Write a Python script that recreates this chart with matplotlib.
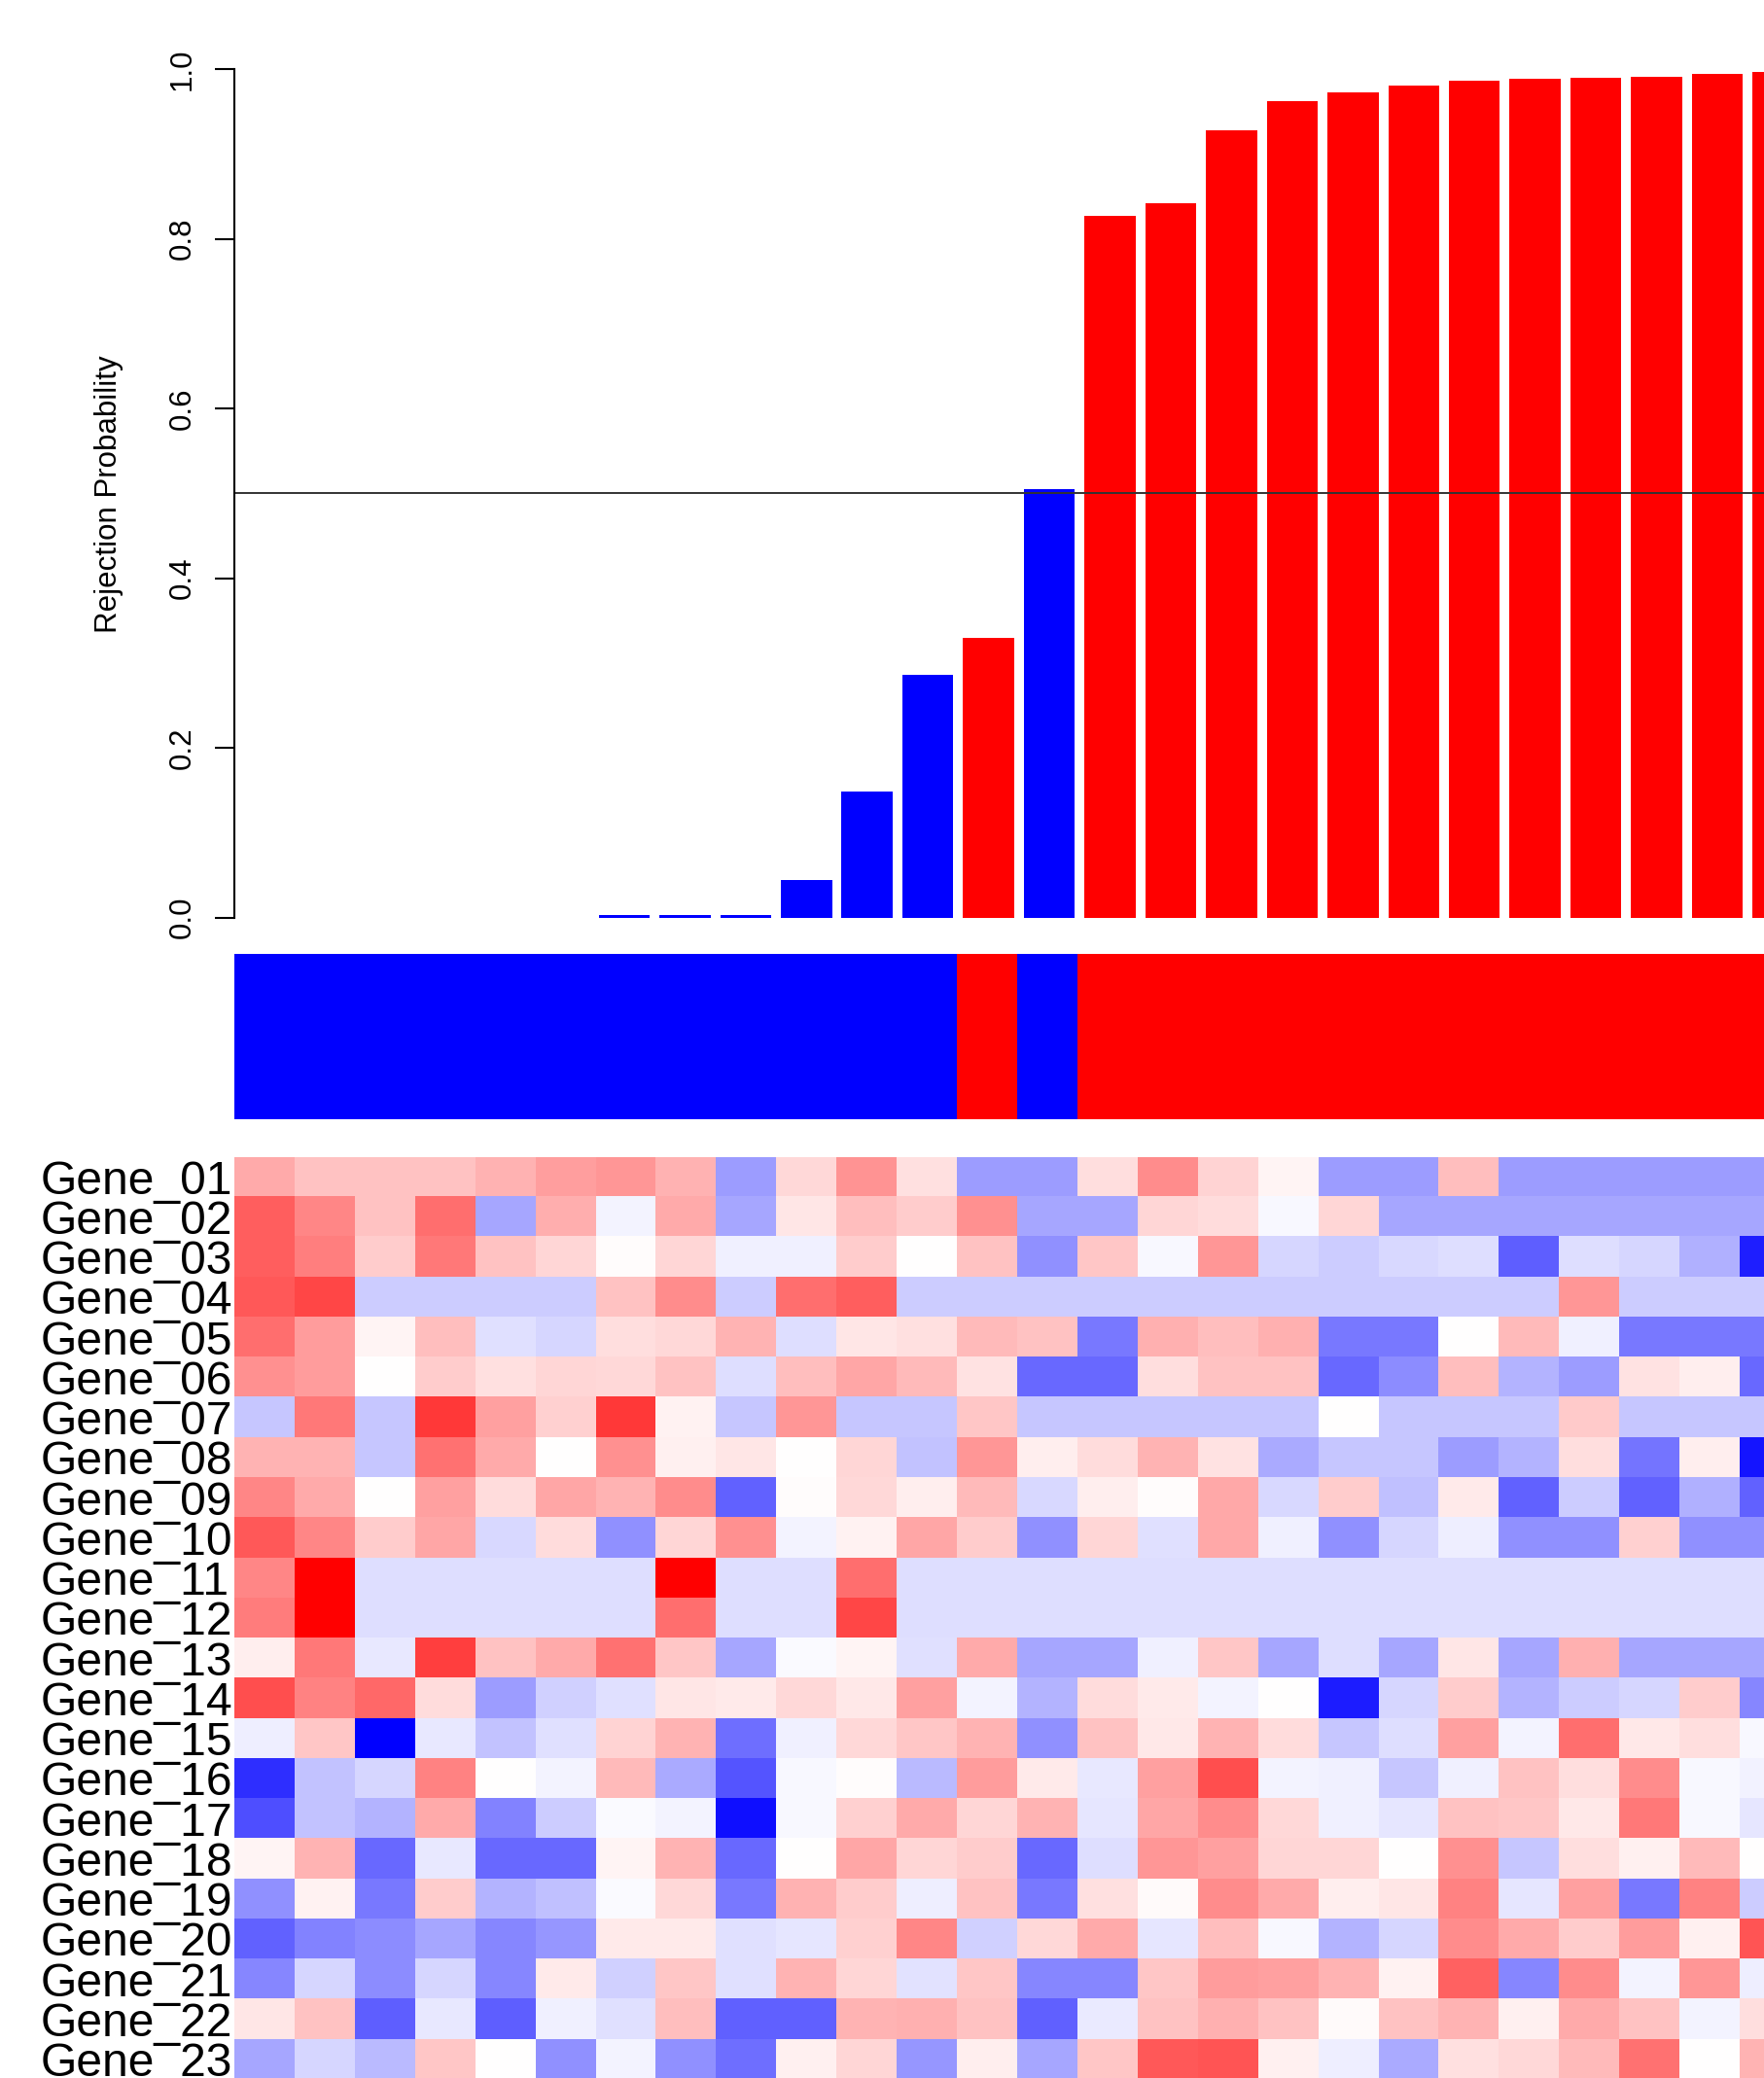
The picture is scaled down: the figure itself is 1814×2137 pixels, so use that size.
import numpy as np
import matplotlib.pyplot as plt
from matplotlib.colors import ListedColormap
from matplotlib.transforms import blended_transform_factory

plt.rcParams['font.family'] = ['Liberation Sans', 'DejaVu Sans']

# rejection probability for each sample (ordered)
rejectProb = [0, 0, 0, 0, 0, 0, 0.0025, 0.0025, 0.0025, 0.044, 0.148, 0.286, 0.33,
              0.505, 0.827, 0.842, 0.928, 0.962, 0.972, 0.981, 0.986, 0.988, 0.990,
              0.991, 0.994, 0.997]

# sample class: 0 = blue, 1 = red
sampleClass = [0, 0, 0, 0, 0, 0, 0, 0, 0, 0, 0, 0, 1, 0,
               1, 1, 1, 1, 1, 1, 1, 1, 1, 1, 1, 1]

yTicks = [0.0, 0.2, 0.4, 0.6, 0.8, 1.0]
yTickLabels = ['0.0', '0.2', '0.4', '0.6', '0.8', '1.0']

geneNames = ['Gene_01', 'Gene_02', 'Gene_03', 'Gene_04', 'Gene_05', 'Gene_06',
             'Gene_07', 'Gene_08', 'Gene_09', 'Gene_10', 'Gene_11', 'Gene_12',
             'Gene_13', 'Gene_14', 'Gene_15', 'Gene_16', 'Gene_17', 'Gene_18',
             'Gene_19', 'Gene_20', 'Gene_21', 'Gene_22', 'Gene_23']

# scaled expression (-1 blue .. 1 red), one row per gene
expr = [
    [0.33, 0.24, 0.24, 0.24, 0.30, 0.38, 0.41, 0.30, -0.39, 0.15, 0.42, 0.12, -0.39, -0.39, 0.13, 0.45, 0.17, 0.04, -0.39, -0.39, 0.25, -0.39, -0.39, -0.39, -0.39, -0.39],
    [0.63, 0.47, 0.24, 0.57, -0.35, 0.32, -0.04, 0.33, -0.35, 0.10, 0.25, 0.20, 0.43, -0.35, -0.35, 0.16, 0.14, -0.03, 0.16, -0.35, -0.35, -0.35, -0.35, -0.35, -0.35, -0.35],
    [0.63, 0.50, 0.20, 0.53, 0.24, 0.16, 0.01, 0.16, -0.06, -0.06, 0.20, 0.00, 0.24, -0.43, 0.22, -0.03, 0.41, -0.16, -0.20, -0.15, -0.13, -0.63, -0.13, -0.16, -0.31, -0.88],
    [0.65, 0.72, -0.20, -0.20, -0.20, -0.20, 0.24, 0.45, -0.20, 0.57, 0.63, -0.20, -0.20, -0.20, -0.20, -0.20, -0.20, -0.20, -0.20, -0.20, -0.20, -0.20, 0.41, -0.20, -0.20, -0.20],
    [0.57, 0.39, 0.04, 0.25, -0.12, -0.16, 0.13, 0.15, 0.29, -0.13, 0.10, 0.12, 0.27, 0.24, -0.53, 0.31, 0.25, 0.31, -0.53, -0.53, 0.00, 0.27, -0.06, -0.53, -0.53, -0.53],
    [0.43, 0.39, 0.00, 0.20, 0.12, 0.16, 0.15, 0.24, -0.13, 0.25, 0.35, 0.27, 0.11, -0.59, -0.59, 0.13, 0.24, 0.24, -0.59, -0.45, 0.25, -0.29, -0.39, 0.11, 0.07, -0.59],
    [-0.22, 0.53, -0.22, 0.78, 0.37, 0.18, 0.78, 0.05, -0.22, 0.41, -0.22, -0.22, 0.22, -0.22, -0.22, -0.22, -0.22, -0.22, 0.00, -0.22, -0.22, -0.22, 0.21, -0.22, -0.22, -0.22],
    [0.29, 0.29, -0.22, 0.55, 0.33, 0.00, 0.43, 0.06, 0.10, 0.00, 0.16, -0.24, 0.41, 0.07, 0.14, 0.29, 0.11, -0.33, -0.22, -0.22, -0.39, -0.29, 0.13, -0.54, 0.07, -0.92],
    [0.47, 0.33, 0.00, 0.37, 0.14, 0.35, 0.29, 0.45, -0.61, 0.01, 0.15, 0.07, 0.27, -0.15, 0.07, 0.01, 0.34, -0.15, 0.20, -0.25, 0.08, -0.61, -0.20, -0.61, -0.31, -0.61],
    [0.65, 0.47, 0.20, 0.35, -0.15, 0.14, -0.43, 0.16, 0.43, -0.04, 0.05, 0.35, 0.20, -0.43, 0.16, -0.12, 0.34, -0.06, -0.43, -0.16, -0.07, -0.43, -0.43, 0.18, -0.43, -0.43],
    [0.47, 1.00, -0.13, -0.13, -0.13, -0.13, -0.13, 1.00, -0.13, -0.13, 0.57, -0.13, -0.13, -0.13, -0.13, -0.13, -0.13, -0.13, -0.13, -0.13, -0.13, -0.13, -0.13, -0.13, -0.13, -0.13],
    [0.51, 1.00, -0.13, -0.13, -0.13, -0.13, -0.13, 0.57, -0.13, -0.13, 0.72, -0.13, -0.13, -0.13, -0.13, -0.13, -0.13, -0.13, -0.13, -0.13, -0.13, -0.13, -0.13, -0.13, -0.13, -0.13],
    [0.07, 0.53, -0.09, 0.75, 0.24, 0.33, 0.55, 0.22, -0.35, -0.02, 0.04, -0.12, 0.33, -0.35, -0.35, -0.06, 0.22, -0.35, -0.13, -0.35, 0.10, -0.35, 0.31, -0.35, -0.35, -0.35],
    [0.69, 0.49, 0.59, 0.14, -0.39, -0.18, -0.12, 0.10, 0.08, 0.15, 0.09, 0.37, -0.04, -0.29, 0.14, 0.08, -0.04, 0.00, -0.89, -0.16, 0.20, -0.29, -0.20, -0.16, 0.20, -0.47],
    [-0.07, 0.22, -1.00, -0.09, -0.24, -0.12, 0.17, 0.29, -0.57, -0.06, 0.15, 0.22, 0.29, -0.43, 0.24, 0.09, 0.29, 0.14, -0.22, -0.13, 0.37, -0.04, 0.57, 0.09, 0.13, -0.03],
    [-0.82, -0.24, -0.16, 0.49, 0.00, -0.04, 0.27, -0.33, -0.67, -0.03, 0.01, -0.27, 0.39, 0.08, -0.09, 0.37, 0.69, -0.04, -0.06, -0.22, -0.06, 0.24, 0.13, 0.45, -0.03, -0.05],
    [-0.69, -0.24, -0.29, 0.33, -0.49, -0.20, -0.02, -0.04, -0.94, -0.03, 0.18, 0.33, 0.16, 0.29, -0.10, 0.35, 0.45, 0.15, -0.06, -0.10, 0.24, 0.22, 0.09, 0.53, -0.03, -0.10],
    [0.04, 0.29, -0.59, -0.09, -0.59, -0.59, 0.04, 0.29, -0.59, 0.00, 0.35, 0.16, 0.20, -0.59, -0.13, 0.41, 0.37, 0.16, 0.16, 0.00, 0.43, -0.22, 0.13, 0.06, 0.27, 0.00],
    [-0.43, 0.05, -0.53, 0.20, -0.29, -0.25, -0.02, 0.15, -0.53, 0.30, 0.20, -0.07, 0.24, -0.53, 0.12, 0.02, 0.45, 0.33, 0.07, 0.10, 0.49, -0.10, 0.37, -0.53, 0.49, -0.20],
    [-0.61, -0.49, -0.45, -0.35, -0.47, -0.41, 0.08, 0.08, -0.12, -0.10, 0.18, 0.47, -0.18, 0.15, 0.33, -0.10, 0.25, -0.03, -0.29, -0.16, 0.45, 0.33, 0.20, 0.39, 0.06, 0.67],
    [-0.47, -0.16, -0.45, -0.16, -0.47, 0.08, -0.18, 0.22, -0.12, 0.29, 0.16, -0.11, 0.22, -0.47, -0.47, 0.22, 0.39, 0.37, 0.29, 0.05, 0.61, -0.47, 0.45, -0.04, 0.41, -0.07],
    [0.10, 0.24, -0.63, -0.09, -0.63, -0.06, -0.12, 0.25, -0.62, -0.62, 0.29, 0.31, 0.24, -0.62, -0.08, 0.24, 0.31, 0.24, 0.02, 0.24, 0.29, 0.06, 0.33, 0.24, -0.04, 0.13],
    [-0.35, -0.16, -0.27, 0.22, 0.00, -0.43, -0.04, -0.43, -0.57, 0.06, 0.16, -0.41, 0.07, -0.35, 0.22, 0.65, 0.67, 0.06, -0.07, -0.33, 0.12, 0.15, 0.27, 0.55, 0.00, 0.29],
]

# figure in pixels (the plot runs off the right and bottom edge)
W, H = 1815, 2137
fig = plt.figure(figsize=(W / 100, H / 100), dpi=100)


def box(left, top, width, height):
    # pixel box (from top-left) -> figure fraction
    return [left / W, 1 - (top + height) / H, width / W, height / H]


barPitch = 62.45
cellW, cellH = 61.9, 41.25
nRow, nCol = len(expr), len(expr[0])
colors = ['red' if c else 'blue' for c in sampleClass]

# bar plot of rejection probabilities
ax1 = fig.add_axes(box(241, 36.1, 40 * barPitch, 942.3))
ax1.bar(np.arange(len(rejectProb)), rejectProb, width=0.84, align='edge',
        color=colors, linewidth=0)
ax1.axhline(0.5, color='#333333', lw=1.4)
ax1.set_xlim(0, 40)
ax1.set_ylim(-0.04, 1.04)
for s in ['top', 'right', 'bottom']:
    ax1.spines[s].set_visible(False)
ax1.spines['left'].set_bounds(0, 1)
ax1.spines['left'].set_linewidth(1.5)
ax1.set_xticks([])
ax1.set_yticks(yTicks)
ax1.set_yticklabels(yTickLabels, rotation=90, va='center', ha='right')
ax1.tick_params(axis='y', length=14.4, width=1.5, pad=13, labelsize=22.5)
fig.text(112 / W, 1 - 508 / H, 'Rejection Probability', rotation=90,
         ha='center', va='center', fontsize=22.5)

# class colour strip
ax2 = fig.add_axes(box(241, 981, nCol * cellW, 170.5))
ax2.imshow([sampleClass], cmap=ListedColormap(['blue', 'red']), vmin=0, vmax=1,
           aspect='auto', interpolation='nearest')
ax2.axis('off')

# expression heatmap
ax3 = fig.add_axes(box(241, 1189.6, nCol * cellW, nRow * cellH))
ax3.imshow(np.array(expr), cmap='bwr', vmin=-1, vmax=1, aspect='auto',
           interpolation='nearest')
ax3.set_xticks([])
ax3.set_yticks([])
for s in ax3.spines.values():
    s.set_visible(False)

# row labels, all starting at the same x (like R's right-adjusted text)
rowTrans = blended_transform_factory(fig.transFigure, ax3.transData)
for i, name in enumerate(geneNames):
    ax3.text(42 / W, i, name, transform=rowTrans, ha='left',
             va='center_baseline', fontsize=34.6, clip_on=False)

plt.savefig('out.png', dpi=100)
